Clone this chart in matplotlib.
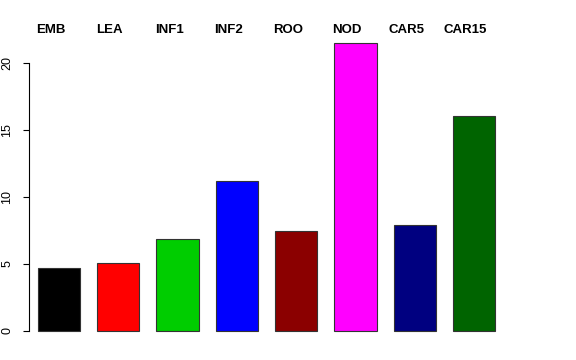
import matplotlib
matplotlib.use("Agg")
import matplotlib.pyplot as plt
import matplotlib.transforms as mtransforms
import numpy as np

plt.rcParams['font.family'] = ['Liberation Sans', 'DejaVu Sans']

categories = ["EMB", "LEA", "INF1", "INF2", "ROO", "NOD", "CAR5", "CAR15"]
values = [4.70, 5.07, 6.87, 11.19, 7.46, 21.5, 7.91, 16.04]
colors = ["#000000", "#FF0000", "#00CD00", "#0000FF", "#8B0000", "#FF00FF", "#000080", "#006400"]
yticks = [0, 5, 10, 15, 20]

W, H = 576, 360
fig = plt.figure(figsize=(W / 100, H / 100), dpi=100)
left_px, right_px, top_px, bot_px = 29, 513.6, 31.4, 342.5
ax = fig.add_axes([left_px / W, (H - bot_px) / H, (right_px - left_px) / W, (bot_px - top_px) / H])

space, width = 0.4, 1.0
centers = [space + width / 2 + i * (space + width) for i in range(len(values))]
ax.bar(centers, values, width=width, color=colors, edgecolor="#333333", linewidth=0.8)

ax.set_xlim(0.192, 11.632)
ax.set_ylim(-0.86, 22.36)
for s in ["top", "right", "bottom"]:
    ax.spines[s].set_visible(False)
ax.spines["left"].set_bounds(0, 20)
ax.spines["left"].set_linewidth(0.8)
ax.set_xticks([])
ax.set_yticks(yticks)
ax.set_yticklabels([str(t) for t in yticks], rotation=90, va="center", fontsize=9)
ax.tick_params(axis="y", direction="out", length=4.3, width=0.8, pad=7)

trans = mtransforms.blended_transform_factory(ax.transData, fig.transFigure)
for c, lab in zip(centers, categories):
    fig.text(c - 0.2, (H - 33) / H, lab, transform=trans, ha="center", va="baseline",
             fontsize=9.5, fontweight="bold")

fig.savefig("out.png", dpi=100)
